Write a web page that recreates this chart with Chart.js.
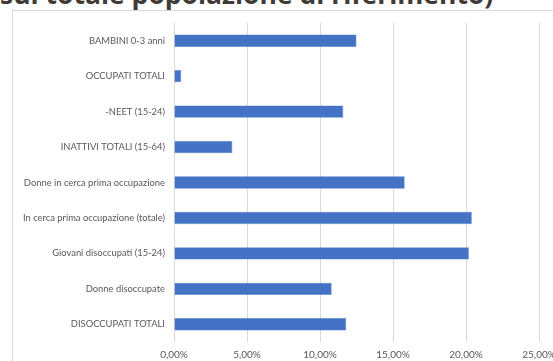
<!DOCTYPE html>
<html>
<head>
<meta charset="utf-8">
<script src="https://cdn.jsdelivr.net/npm/chart.js@4/dist/chart.umd.min.js"></script>
<style>
  html, body { margin: 0; padding: 0; background: #fff; overflow: hidden; }
  #wrap { position: relative; width: 553px; height: 361px; overflow: hidden; }
  #titolo {
    position: absolute; left: 0; top: -21px; white-space: nowrap;
    font: bold 26.5px "Open Sans", sans-serif; line-height: 30px; color: #403b36;
  }
  #cornice {
    position: absolute; left: 12px; top: 10px; right: -5px; bottom: -5px;
    border-top: 1px solid #d9d9d9; border-left: 1px solid #d9d9d9;
  }
  canvas { position: absolute; left: 0; top: 0; }
</style>
</head>
<body>
<div id="wrap">
  <div id="titolo">sul totale popolazione di riferimento)</div>
  <div id="cornice"></div>
  <canvas id="grafico" width="553" height="361"></canvas>
</div>
<script>
const categorie = [
  'BAMBINI 0-3 anni',
  'OCCUPATI TOTALI',
  '-NEET (15-24)',
  'INATTIVI TOTALI (15-64)',
  'Donne in cerca prima occupazione',
  'In cerca prima occupazione (totale)',
  'Giovani disoccupati (15-24)',
  'Donne disoccupate',
  'DISOCCUPATI TOTALI'
];
// quote percentuali sul totale della popolazione di riferimento
const quote = [12.5, 0.5, 11.6, 4.0, 15.8, 20.4, 20.2, 10.8, 11.8];
const tickX = [0, 5, 10, 15, 20, 25];

const fmt = v => v.toFixed(2).replace('.', ',') + '%';
const font = { family: 'Lato, "Liberation Sans", sans-serif', size: 9.4 };

new Chart(document.getElementById('grafico'), {
  type: 'bar',
  data: {
    labels: categorie,
    datasets: [{
      data: quote,
      backgroundColor: '#4472c4',
      borderColor: '#5b85cf',
      borderWidth: 0.6,
      barPercentage: 0.35,
      categoryPercentage: 1
    }]
  },
  options: {
    indexAxis: 'y',
    responsive: false,
    animation: false,
    layout: { padding: { top: 23, right: 14, left: 0, bottom: 0 } },
    plugins: { legend: { display: false }, tooltip: { enabled: false } },
    scales: {
      x: {
        min: 0, max: 25,
        afterBuildTicks: s => { s.ticks = tickX.map(v => ({ value: v })); },
        afterFit: s => { s.height = 19; s.paddingLeft = 0; s.paddingRight = 0; },
        grid: { color: '#d9d9d9', drawTicks: false },
        border: { display: false },
        ticks: { color: '#595959', font: { ...font, size: 10 }, padding: 7, maxRotation: 0, callback: v => fmt(v) }
      },
      y: {
        afterFit: s => { s.width = 174; },
        grid: { display: false, drawTicks: false },
        border: { display: false },
        ticks: { color: '#595959', font, padding: 9 }
      }
    }
  }
});
</script>
</body>
</html>
